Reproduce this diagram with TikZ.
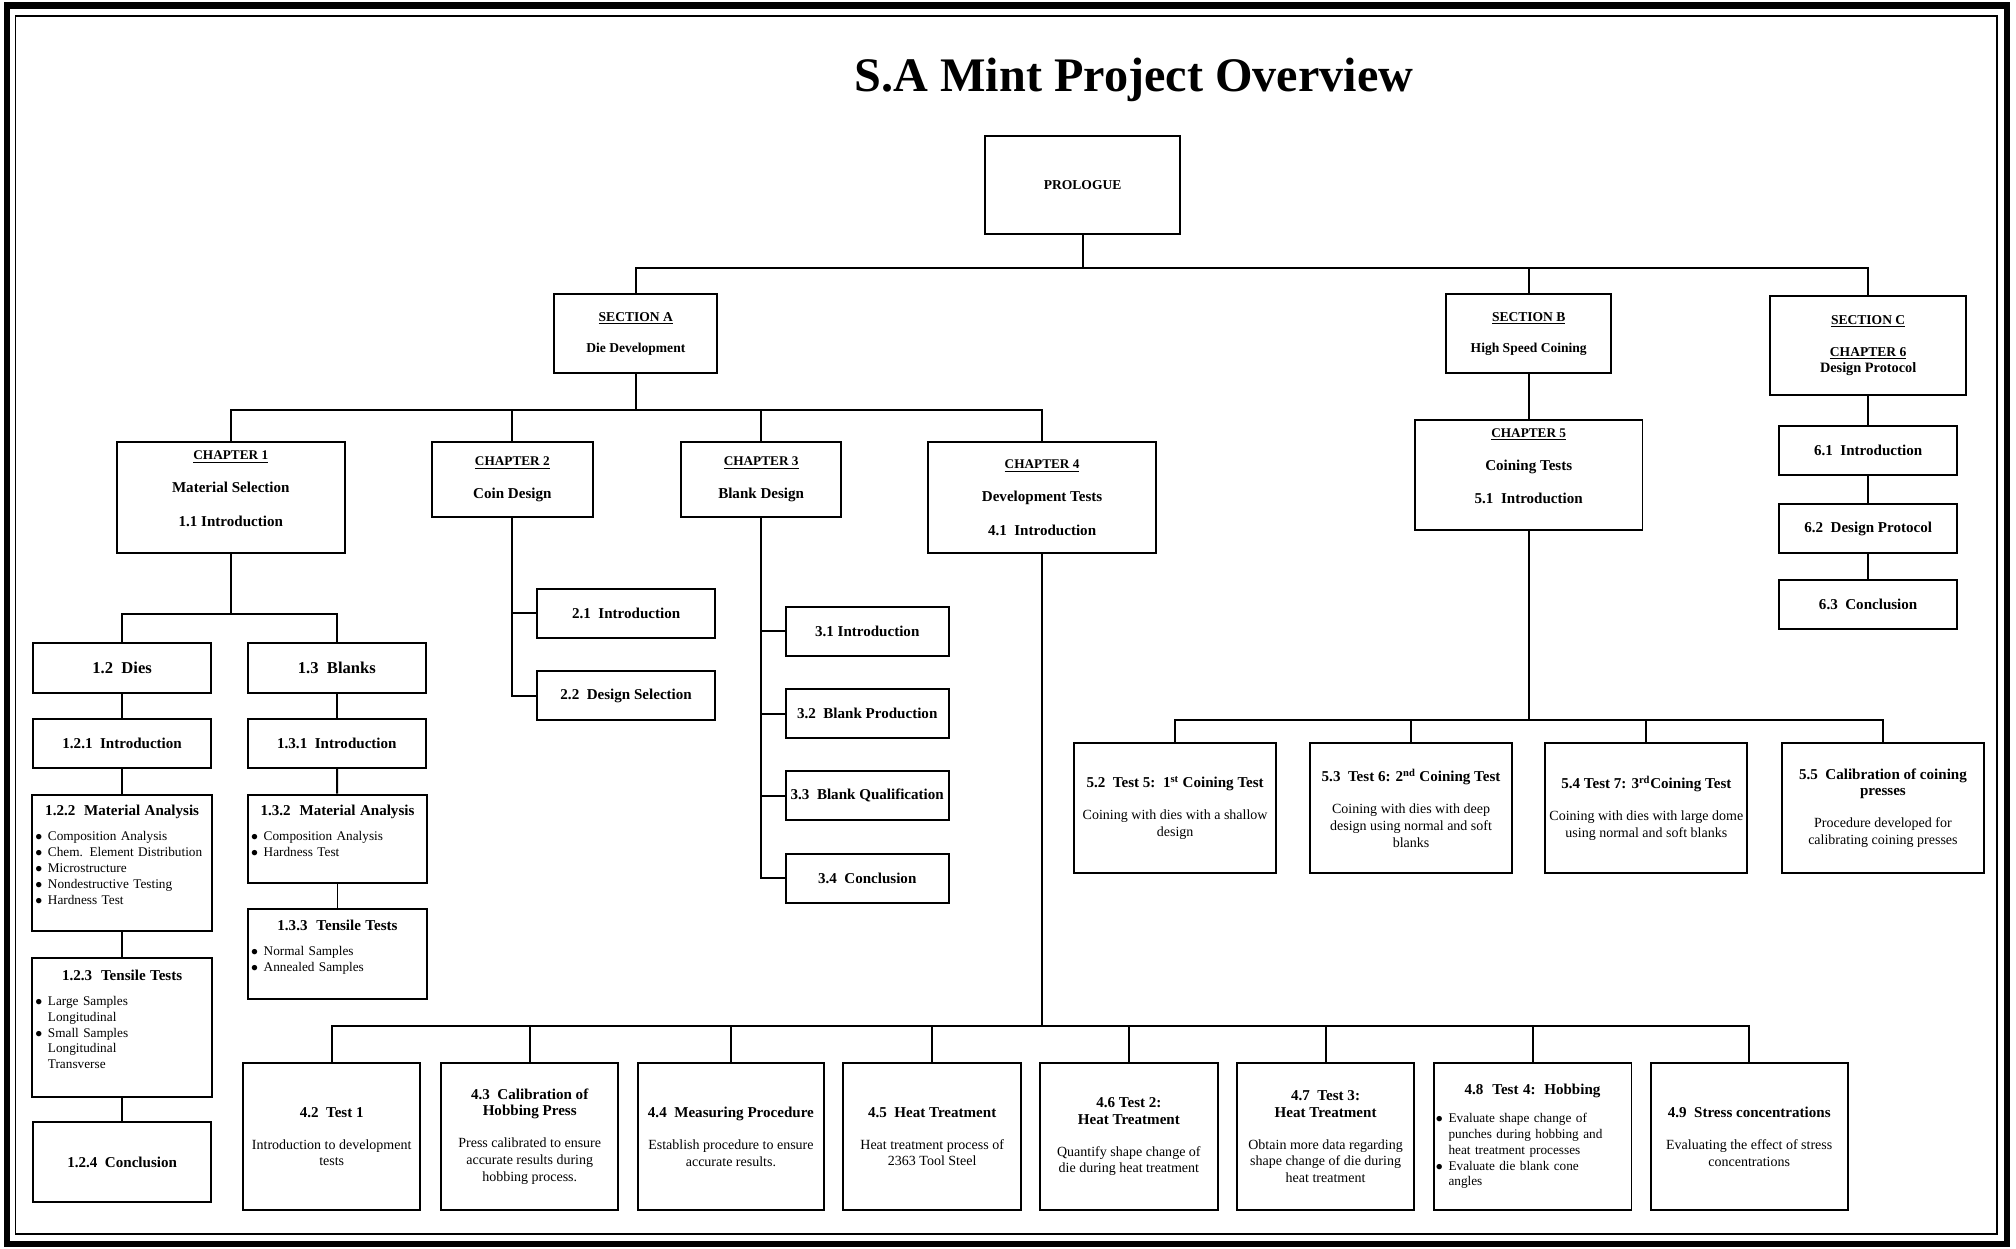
\documentclass[tikz,border=0pt]{standalone}
\usepackage{fontspec}
\setmainfont{Liberation Serif}
\newcommand\itembul{\makebox[0.95em][l]{$\bullet$}}
\newcommand\itemgap{\hspace*{0.95em}}
\newcommand\chaptag[1]{{\fontsize{8.8}{10.5}\selectfont\underline{#1}}}
\newcommand\headtxt[1]{{\fontsize{10}{12}\selectfont\bfseries #1}}
\newcommand\midhead[1]{\hspace*{\fill}\headtxt{#1}\hspace*{\fill}\null}
\tikzset{
    overview/.style = {x=0.3mm, y=-0.3mm},
    line/.style     = {line width=1.3pt},
    border line/.style = {line width=4.5pt},
    box/.style      = {draw, line width=1.3pt, fill=white, align=center,
                       inner sep=2pt},
    head/.style     = {font=\fontsize{10}{12}\selectfont\bfseries},
    bighead/.style  = {font=\fontsize{11}{13}\selectfont\bfseries},
    tag/.style      = {font=\fontsize{9}{10.5}\selectfont\bfseries},
    body/.style     = {font=\fontsize{9.3}{11.2}\selectfont},
    bullets/.style  = {font=\fontsize{8.8}{10.5}\selectfont},
    subbox/.style   = {box, head, minimum width=41.4mm, minimum height=11.4mm},
    testbox/.style  = {box, body, minimum height=34.2mm},
    coinbox/.style  = {box, body, minimum width=47.1mm, minimum height=30.3mm},
    listbox/.style  = {box, bullets, align=left, inner xsep=2pt, text width=#1}
}
\begin{document}
\begin{tikzpicture}[overview]
\useasboundingbox (0,0) rectangle (1568,971);

% ================= Page frame =================
\draw[border line] (5.5,4.5) rectangle (1561,967.5);
\draw[line width=1.2pt] (12,12.5) rectangle (1553,960);

% ================= Title, prologue and sections =================
\node[font=\fontsize{32}{38}\selectfont\bfseries] (title) at (882,62)
    {S.A Mint Project Overview};
\node[box, tag, minimum width=45.6mm, minimum height=22.8mm]
    (prologue) at (842,144) {PROLOGUE};
\node[box, tag, minimum width=38.1mm, minimum height=18.3mm]
    (secA) at (494.5,259.5) {\underline{SECTION A}\\[10pt]Die Development};
\node[box, tag, minimum width=38.4mm, minimum height=18.3mm]
    (secB) at (1189,259.5) {\underline{SECTION B}\\[10pt]High Speed Coining};
\node[box, tag, minimum width=45.6mm, minimum height=23.1mm]
    (secC) at (1453,268.5)
    {\underline{SECTION C}\\[11pt]\underline{CHAPTER 6}\\{\fontsize{9.5}{11}\selectfont Design Protocol}};

% ================= Chapters =================
\node[box, head, minimum width=53.1mm, minimum height=25.8mm]
    (ch1) at (179.5,387)
    {\chaptag{CHAPTER 1}\\[10pt]Material Selection\\[10pt]1.1 Introduction\\\mbox{}};
\node[box, head, minimum width=37.5mm, minimum height=17.4mm]
    (ch2) at (398.5,373) {\chaptag{CHAPTER 2}\\[10pt]Coin Design};
\node[box, head, minimum width=37.2mm, minimum height=17.4mm]
    (ch3) at (592,373) {\chaptag{CHAPTER 3}\\[10pt]Blank Design};
\node[box, head, minimum width=53.1mm, minimum height=25.8mm]
    (ch4) at (810.5,387)
    {\chaptag{CHAPTER 4}\\[10pt]Development Tests\\[10pt]4.1~~Introduction};
\node[box, head, minimum width=53.1mm, minimum height=25.5mm]
    (ch5) at (1189,369.5)
    {\chaptag{CHAPTER 5}\\[10pt]Coining Tests\\[10pt]5.1~~Introduction\\\mbox{}};

% ================= Chapter 1 =================
\node[subbox, bighead, minimum height=11.7mm] (c12) at (95,519.5) {1.2~~Dies};
\node[subbox, bighead, minimum height=11.7mm] (c13) at (262,519.5) {1.3~~Blanks};
\node[subbox] (c121) at (95,578.5) {1.2.1~~Introduction};
\node[subbox] (c131) at (262,578.5) {1.3.1~~Introduction};
\node[listbox=40.5mm, minimum height=31.8mm] (c122) at (95,671)
    {\midhead{1.2.2~~Material Analysis}\\[6pt]
     \itembul Composition Analysis\\
     \itembul Chem. Element Distribution\\
     \itembul Microstructure\\
     \itembul Nondestructive Testing\\
     \itembul Hardness Test\\\mbox{}};
\node[listbox=40.5mm, minimum height=32.4mm] (c123) at (95,799)
    {\midhead{1.2.3~~Tensile Tests}\\[6pt]
     \itembul Large Samples\\
     \itemgap Longitudinal\\
     \itembul Small Samples\\
     \itemgap Longitudinal\\
     \itemgap Transverse\\\mbox{}};
\node[subbox, minimum height=18.6mm] (c124) at (95,904) {1.2.4~~Conclusion};
\node[listbox=40.3mm, minimum height=20.7mm] (c132) at (262.5,652.5)
    {\midhead{1.3.2~~Material Analysis}\\[6pt]
     \itembul Composition Analysis\\
     \itembul Hardness Test\\\mbox{}};
\node[listbox=40.3mm, minimum height=21mm] (c133) at (262.5,742)
    {\midhead{1.3.3~~Tensile Tests}\\[6pt]
     \itembul Normal Samples\\
     \itembul Annealed Samples\\\mbox{}};

% ================= Chapters 2 and 3 =================
\node[subbox] (c21) at (487,477) {2.1~~Introduction};
\node[subbox] (c22) at (487,541) {2.2~~Design Selection};
\node[subbox, minimum width=38.1mm] (c31) at (674.5,491) {3.1 Introduction};
\node[subbox, minimum width=38.1mm] (c32) at (674.5,555) {3.2~~Blank Production};
\node[subbox, minimum width=38.1mm] (c33) at (674.5,619) {3.3~~Blank Qualification};
\node[subbox, minimum width=38.1mm] (c34) at (674.5,683) {3.4~~Conclusion};

% ================= Chapter 4 =================
\node[testbox, minimum width=41.4mm] (c42) at (258,884)
    {\headtxt{4.2~~Test 1}\\[10pt]Introduction to development\\tests};
\node[testbox, minimum width=41.4mm] (c43) at (412,884)
    {\headtxt{4.3~~Calibration of}\\\headtxt{Hobbing Press}\\[10pt]Press calibrated to ensure\\accurate results during\\hobbing process.};
\node[testbox, minimum width=43.5mm] (c44) at (568.5,884)
    {\headtxt{4.4~~Measuring Procedure}\\[10pt]Establish procedure to ensure\\accurate results.};
\node[testbox, minimum width=41.4mm] (c45) at (725,884)
    {\headtxt{4.5~~Heat Treatment}\\[10pt]Heat treatment process of\\2363 Tool Steel};
\node[testbox, minimum width=41.4mm] (c46) at (878,884)
    {\headtxt{4.6 Test 2:}\\\headtxt{Heat Treatment}\\[10pt]Quantify shape change of\\die during heat treatment};
\node[testbox, minimum width=41.4mm] (c47) at (1031,884)
    {\headtxt{4.7~~Test 3:}\\\headtxt{Heat Treatment}\\[10pt]Obtain more data regarding\\shape change of die during\\heat treatment};
\node[listbox=45.1mm, inner xsep=1.5pt, minimum height=34.2mm] (c48) at (1192,884)
    {\midhead{4.8~~Test 4:~~Hobbing}\\[8pt]
     \itembul Evaluate shape change of\\
     \itemgap punches during hobbing and\\
     \itemgap heat treatment processes\\
     \itembul Evaluate die blank cone\\
     \itemgap angles};
\node[testbox, minimum width=45.9mm] (c49) at (1360.5,884)
    {\headtxt{4.9~~Stress concentrations}\\[10pt]Evaluating the effect of stress\\concentrations};

% ================= Chapter 5 =================
\node[coinbox] (c52) at (914,628.5)
    {\headtxt{5.2~~Test 5:~~1\textsuperscript{st} Coining Test}\\[10pt]Coining with dies with a shallow\\design};
\node[coinbox] (c53) at (1097.5,628.5)
    {\headtxt{5.3~~Test 6: 2\textsuperscript{nd} Coining Test}\\[10pt]Coining with dies with deep\\design using normal and soft\\blanks};
\node[coinbox] (c54) at (1280.5,628.5)
    {\headtxt{5.4 Test 7: 3\textsuperscript{rd}Coining Test}\\[10pt]Coining with dies with large dome\\using normal and soft blanks};
\node[coinbox] (c55) at (1464.5,628.5)
    {\headtxt{5.5~~Calibration of coining}\\\headtxt{presses}\\[10pt]Procedure developed for\\calibrating coining presses};

% ================= Chapter 6 =================
\node[subbox] (c61) at (1453,350.5) {6.1~~Introduction};
\node[subbox] (c62) at (1453,411) {6.2~~Design Protocol};
\node[subbox] (c63) at (1453,470) {6.3~~Conclusion};

% ================= Connectors =================
\draw[line] (prologue.south) -- ++(0,26) coordinate (pbus);
\foreach \n in {secA,secB,secC}
    \draw[line] (pbus) -| (\n.north);
\draw[line] (secA.south) -- ++(0,28) coordinate (abus);
\foreach \n in {ch1,ch2,ch3,ch4}
    \draw[line] (abus) -| (\n.north);
\draw[line] (ch1.south) -- ++(0,47) coordinate (bus1);
\foreach \n in {c12,c13}
    \draw[line] (bus1) -| (\n.north);
\foreach \a/\b in {secB/ch5,secC/c61,c61/c62,c62/c63,
                   c12/c121,c121/c122,c122/c123,c123/c124,
                   c13/c131,c131/c132,c132/c133}
    \draw[line] (\a) -- (\b);
\foreach \n in {c21,c22}
    \draw[line] (ch2.south) |- (\n.west);
\foreach \n in {c31,c32,c33,c34}
    \draw[line] (ch3.south) |- (\n.west);
\draw[line] (ch4.south) -- ++(0,367) coordinate (bus4);
\foreach \n in {c42,c43,c44,c45,c46,c47,c48,c49}
    \draw[line] (bus4) -| (\n.north);
\draw[line] (ch5.south) -- ++(0,147) coordinate (bus5);
\foreach \n in {c52,c53,c54,c55}
    \draw[line] (bus5) -| (\n.north);

\end{tikzpicture}
\end{document}
